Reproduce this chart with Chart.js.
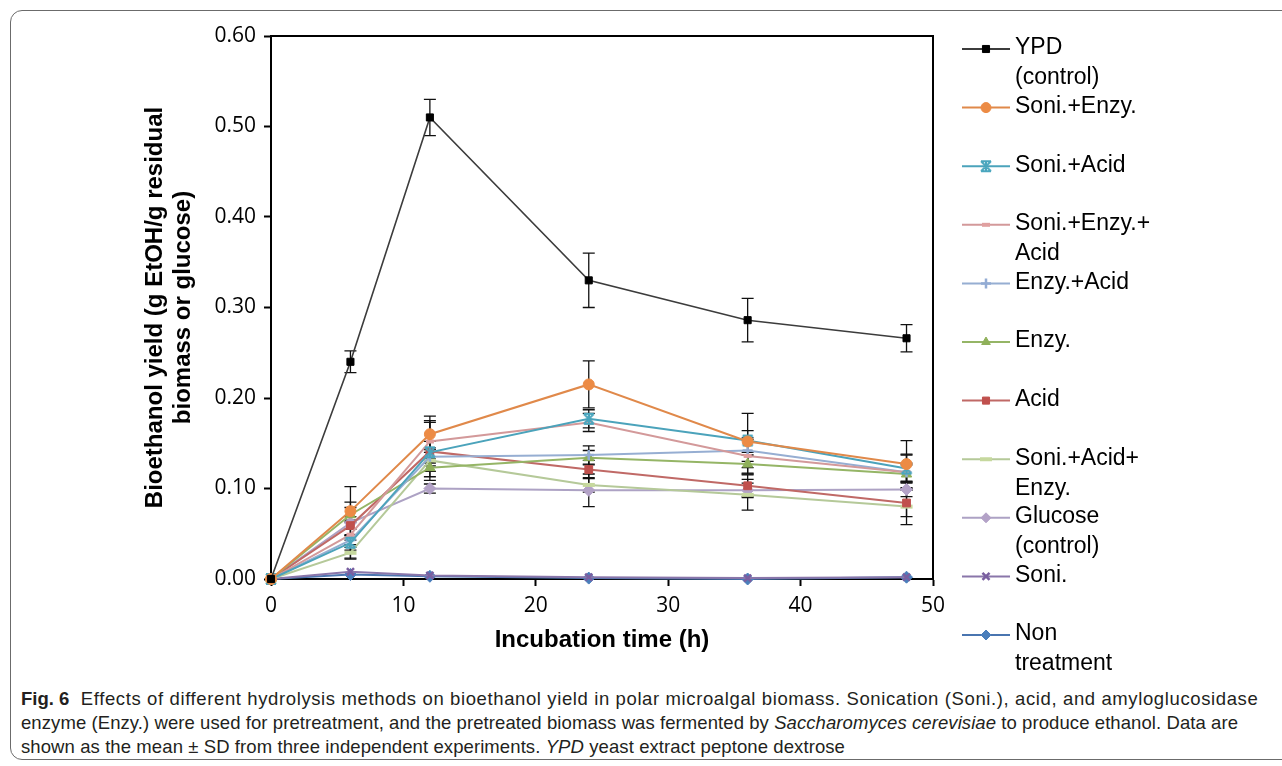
<!DOCTYPE html>
<html>
<head>
<meta charset="utf-8">
<script src="https://cdn.jsdelivr.net/npm/chart.js@4/dist/chart.umd.min.js"></script>
<style>
  html, body { margin: 0; padding: 0; background: #fff; overflow: hidden; }
  body { width: 1282px; height: 766px; position: relative; }
  .frame {
    position: absolute; left: 10px; top: 10px; width: 1300px; height: 748px;
    border: 1px solid #6b6b6b; border-radius: 12px;
  }
  #wrap { position: absolute; left: 0; top: 0; width: 1282px; height: 680px; }
  .caption {
    position: absolute; left: 21px; top: 687px;
    font-family: "Liberation Sans", Arial, sans-serif;
    font-size: 18.5px; line-height: 24px; color: #231f20;
  }
  .caption span.line { display: block; white-space: nowrap; width: max-content; }
  .caption b { letter-spacing: 0; }
</style>
</head>
<body>
<div class="frame"></div>
<div id="wrap"><canvas id="chart" width="1282" height="680"></canvas></div>
<div class="caption">
  <span class="line" data-w="1241"><b>Fig. 6</b>&nbsp; Effects of different hydrolysis methods on bioethanol yield in polar microalgal biomass. Sonication (Soni.), acid, and amyloglucosidase</span>
  <span class="line" data-w="1217">enzyme (Enzy.) were used for pretreatment, and the pretreated biomass was fermented by <i>Saccharomyces cerevisiae</i> to produce ethanol. Data are</span>
  <span class="line" data-w="824">shown as the mean ± SD from three independent experiments. <i>YPD</i> yeast extract peptone dextrose</span>
</div>
<script>
// incubation time (h)
const times = [0, 6, 12, 24, 36, 48];

// bioethanol yield, g EtOH / g residual biomass or glucose (mean and SD)
const ypd = [0, 0.240, 0.510, 0.330, 0.286, 0.266];
const ypdSd = [0, 0.012, 0.020, 0.030, 0.024, 0.015];
const soniEnzy = [0, 0.075, 0.160, 0.215, 0.152, 0.127];
const soniEnzySd = [0, 0.010, 0.020, 0.026, 0.012, 0.026];
const soniAcid = [0, 0.040, 0.140, 0.177, 0.153, 0.122];
const soniAcidSd = [0, 0.008, 0.012, 0.010, 0.030, 0.015];
const soniEnzyAcid = [0, 0.049, 0.152, 0.173, 0.136, 0.118];
const soniEnzyAcidSd = [0, 0.006, 0.023, 0.010, 0.020, 0.020];
const enzyAcid = [0, 0.043, 0.135, 0.137, 0.142, 0.118];
const enzyAcidSd = [0, 0.005, 0.010, 0.010, 0.012, 0.010];
const enzy = [0, 0.071, 0.123, 0.134, 0.127, 0.116];
const enzySd = [0, 0.008, 0.010, 0.008, 0.010, 0.010];
const acid = [0, 0.059, 0.141, 0.121, 0.103, 0.084];
const acidSd = [0, 0.010, 0.032, 0.010, 0.012, 0.015];
const soniAcidEnzy = [0, 0.029, 0.131, 0.104, 0.093, 0.080];
const soniAcidEnzySd = [0, 0.006, 0.012, 0.008, 0.017, 0.020];
const glucose = [0, 0.062, 0.100, 0.098, 0.098, 0.099];
const glucoseSd = [0, 0.040, 0.005, 0.018, 0.008, 0.008];
const soni = [0, 0.008, 0.004, 0.002, 0.001, 0.002];
const nonTreatment = [0, 0.005, 0.003, 0.001, 0.000, 0.002];

const xTicks = [0, 10, 20, 30, 40, 50];
const yTicks = [0, 0.1, 0.2, 0.3, 0.4, 0.5, 0.6];

// stretch each caption line to the width it has in the printed figure
document.querySelectorAll('.caption .line').forEach(el => {
  const natural = el.getBoundingClientRect().width;
  const chars = el.textContent.length;
  el.style.letterSpacing = ((+el.dataset.w - natural) / chars).toFixed(3) + 'px';
});

// small marker images for the Excel-style dash and star markers
function makeMarker(kind, color) {
  const c = document.createElement('canvas');
  c.width = 14; c.height = 14;
  const g = c.getContext('2d');
  g.strokeStyle = color; g.fillStyle = color; g.lineWidth = 2;
  if (kind === 'shortDash') {
    g.fillRect(3, 5, 8, 4);
  } else if (kind === 'longDash') {
    g.fillRect(1, 5, 12, 4);
  } else if (kind === 'star') {
    g.beginPath();
    g.moveTo(2, 2); g.lineTo(12, 12);
    g.moveTo(12, 2); g.lineTo(2, 12);
    g.moveTo(2, 2); g.lineTo(12, 2);
    g.moveTo(2, 12); g.lineTo(12, 12);
    g.moveTo(7, 1); g.lineTo(7, 13);
    g.stroke();
  }
  return c;
}

function series(label, values, sd, color, lineColor, pointStyle, radius, extra) {
  return Object.assign({
    label: label,
    data: times.map((t, i) => ({ x: t, y: values[i] })),
    sd: sd,
    borderColor: lineColor,
    backgroundColor: color,
    pointBackgroundColor: color,
    pointBorderColor: color,
    pointStyle: pointStyle,
    pointRadius: radius,
    pointBorderWidth: 1,
    borderWidth: 2,
    tension: 0,
    clip: false
  }, extra || {});
}

const datasets = [
  series('YPD (control)', ypd, ypdSd, '#000000', '#3c3c3c', 'rect', 5, { borderWidth: 1.6 }),
  series('Soni.+Enzy.', soniEnzy, soniEnzySd, '#ec8b45', '#e0894a', 'circle', 5.5),
  series('Soni.+Acid', soniAcid, soniAcidSd, '#4aa6be', '#4ba3bb', makeMarker('star', '#4aa6be'), 6),
  series('Soni.+Enzy.+Acid', soniEnzyAcid, soniEnzyAcidSd, '#d99694', '#d3999a', makeMarker('shortDash', '#e0a0a0'), 6),
  series('Enzy.+Acid', enzyAcid, enzyAcidSd, '#93acd4', '#96aed2', 'cross', 5, { pointBorderWidth: 2.5 }),
  series('Enzy.', enzy, enzySd, '#8fb05a', '#95b566', 'triangle', 6),
  series('Acid', acid, acidSd, '#c0504d', '#c06966', 'rect', 5.5),
  series('Soni.+Acid+Enzy.', soniAcidEnzy, soniAcidEnzySd, '#c3d69b', '#b5c999', makeMarker('longDash', '#c6d89e'), 7),
  series('Glucose (control)', glucose, glucoseSd, '#b3a2c7', '#ada2c4', 'rectRot', 6),
  series('Soni.', soni, null, '#7a5fa0', '#8a76aa', 'crossRot', 5, { pointBorderWidth: 2.5 }),
  series('Non treatment', nonTreatment, null, '#4a7ebb', '#4a75b0', 'rectRot', 6)
];

const legendLines = [
  ['YPD', '(control)'], ['Soni.+Enzy.'], ['Soni.+Acid'], ['Soni.+Enzy.+', 'Acid'],
  ['Enzy.+Acid'], ['Enzy.'], ['Acid'], ['Soni.+Acid+', 'Enzy.'],
  ['Glucose', '(control)'], ['Soni.'], ['Non', 'treatment']
];

const errorBars = {
  id: 'errorBars',
  beforeDatasetsDraw(chart) {
    const { ctx, scales: { x, y } } = chart;
    ctx.save();
    ctx.strokeStyle = '#111';
    ctx.lineWidth = 1.3;
    chart.data.datasets.forEach(ds => {
      if (!ds.sd) return;
      ds.data.forEach((p, i) => {
        const s = ds.sd[i];
        if (!s) return;
        const px = x.getPixelForValue(p.x);
        const top = y.getPixelForValue(p.y + s);
        const bot = y.getPixelForValue(p.y - s);
        ctx.beginPath();
        ctx.moveTo(px, top); ctx.lineTo(px, bot);
        ctx.moveTo(px - 6, top); ctx.lineTo(px + 6, top);
        ctx.moveTo(px - 6, bot); ctx.lineTo(px + 6, bot);
        ctx.stroke();
      });
    });
    ctx.restore();
  }
};

const frameAndLegend = {
  id: 'frameAndLegend',
  afterDraw(chart) {
    const { ctx, chartArea: a } = chart;
    ctx.save();
    // top and right sides of the plot box
    ctx.strokeStyle = '#000';
    ctx.lineWidth = 2;
    ctx.beginPath();
    ctx.moveTo(a.left, a.top); ctx.lineTo(a.right, a.top); ctx.lineTo(a.right, a.bottom);
    ctx.stroke();

    // legend on the right
    ctx.font = '23px "Liberation Sans", Arial, sans-serif';
    ctx.textBaseline = 'middle';
    ctx.fillStyle = '#000';
    chart.data.datasets.forEach((ds, i) => {
      const yy = 49 + i * 58.6;
      ctx.strokeStyle = ds.borderColor;
      ctx.lineWidth = 2;
      ctx.beginPath(); ctx.moveTo(962, yy); ctx.lineTo(1010, yy); ctx.stroke();
      ctx.fillStyle = ds.pointBackgroundColor;
      ctx.strokeStyle = ds.pointBorderColor;
      ctx.lineWidth = ds.pointBorderWidth;
      Chart.helpers.drawPoint(ctx, { pointStyle: ds.pointStyle, radius: Math.min(ds.pointRadius, 5), rotation: 0, borderWidth: ds.pointBorderWidth }, 986, yy);
      ctx.fillStyle = '#000';
      legendLines[i].forEach((t, k) => ctx.fillText(t, 1015, yy - 1 + k * 30));
    });
    ctx.restore();
  }
};

new Chart(document.getElementById('chart'), {
  type: 'line',
  data: { datasets: datasets },
  options: {
    responsive: false,
    animation: false,
    layout: { padding: { left: 130, right: 349, top: 36, bottom: 21 } },
    plugins: { legend: { display: false }, tooltip: { enabled: false } },
    scales: {
      x: {
        type: 'linear',
        min: 0, max: 50,
        afterBuildTicks: s => { s.ticks = xTicks.map(v => ({ value: v })); },
        afterFit: s => { s.height = 80; },
        ticks: { color: '#000', padding: 7, font: { family: '"Open Sans"', size: 21 } },
        grid: { drawOnChartArea: false, tickLength: 7, tickColor: '#000', tickWidth: 2 },
        border: { color: '#000', width: 2 },
        title: {
          display: true, text: 'Incubation time (h)', color: '#000',
          font: { family: '"Liberation Sans", Arial', size: 24, weight: 'bold', lineHeight: 1.15 },
          padding: { top: 0, bottom: 5 }
        }
      },
      y: {
        min: 0, max: 0.6,
        afterBuildTicks: s => { s.ticks = yTicks.map(v => ({ value: v })); },
        afterFit: s => { s.width = 141; },
        ticks: { color: '#000', padding: 8, font: { family: '"Open Sans"', size: 21 }, callback: v => v.toFixed(2) },
        grid: { drawOnChartArea: false, tickLength: 7, tickColor: '#000', tickWidth: 2 },
        border: { color: '#000', width: 2 },
        title: {
          display: true, text: ['Bioethanol yield (g EtOH/g residual', 'biomass or glucose)'], color: '#000',
          font: { family: '"Liberation Sans", Arial', size: 24, weight: 'bold', lineHeight: 1.15 },
          padding: { top: 12, bottom: 0 }
        }
      }
    }
  },
  plugins: [errorBars, frameAndLegend]
});
</script>
</body>
</html>
